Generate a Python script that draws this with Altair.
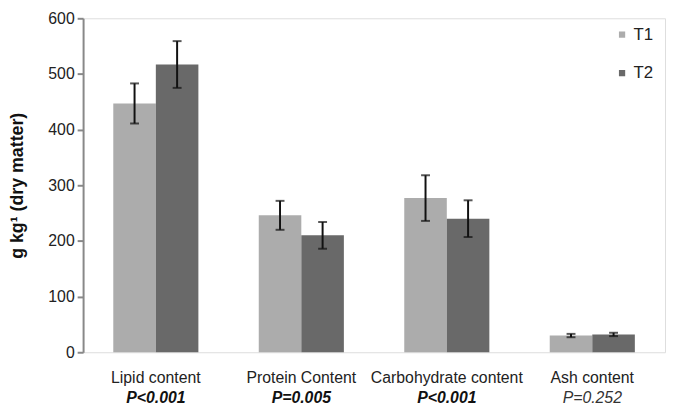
import altair as alt
import pandas as pd

categories = ["Lipid content", "Protein Content", "Carbohydrate content", "Ash content"]
p_values = ["P<0.001", "P=0.005", "P<0.001", "P=0.252"]
p_bold = [True, True, True, False]
series = ["T1", "T2"]
t1_mean = [447, 246, 277, 30]
t1_err = [36, 26, 41, 3]
t2_mean = [517, 210, 240, 32]
t2_err = [42, 24, 33, 3]

rows = []
for i, c in enumerate(categories):
    rows.append({"cat": c, "series": "T1", "v": t1_mean[i], "lo": t1_mean[i] - t1_err[i], "hi": t1_mean[i] + t1_err[i]})
    rows.append({"cat": c, "series": "T2", "v": t2_mean[i], "lo": t2_mean[i] - t2_err[i], "hi": t2_mean[i] + t2_err[i]})
df = pd.DataFrame(rows)

lab = pd.DataFrame({"cat": categories, "p": p_values, "bold": p_bold})

FONT = "Liberation Sans"
TOP = 16     # page y of plot top
H = 338      # plot height (bottom at y=354)
BOTTOM = 408 # page y of svg bottom
x = alt.X("cat:N", sort=categories, axis=None,
          scale=alt.Scale(paddingInner=0.415, paddingOuter=0.2075))
xo = alt.XOffset("series:N", sort=series)

color = alt.Color("series:N", sort=series,
                  scale=alt.Scale(domain=series, range=["#acacac", "#696969"]),
                  legend=alt.Legend(title=None, orient="none", legendX=537, legendY=8,
                                    symbolType="square", symbolSize=40, symbolStrokeWidth=0,
                                    labelFont=FONT, labelFontSize=17, labelColor="#222",
                                    rowPadding=21, labelOffset=3))

y = alt.Y("v:Q", scale=alt.Scale(domain=[0, 600]),
          axis=alt.Axis(values=[0, 100, 200, 300, 400, 500, 600], grid=False,
                        domainColor="#888", domainWidth=2, tickColor="#888", tickWidth=2,
                        tickSize=6, labelFont=FONT, labelFontSize=16, labelColor="#222",
                        labelPadding=3, title="g kg¹ (dry matter)", titleFont=FONT,
                        titleFontSize=18, titleFontWeight="bold", titleColor="#111",
                        titleAngle=270, titleX=-66, titleY=H / 2, titleAlign="center",
                        titleBaseline="middle"))

bars = alt.Chart(df).mark_bar().encode(x=x, xOffset=xo, y=y, color=color)

rules = alt.Chart(df).mark_rule(color="#111", strokeWidth=2).encode(
    x=x, xOffset=xo, y="lo:Q", y2="hi:Q")
caps_hi = alt.Chart(df).mark_tick(color="#111", thickness=2, size=9, orient="horizontal").encode(
    x=x, xOffset=xo, y="hi:Q")
caps_lo = alt.Chart(df).mark_tick(color="#111", thickness=2, size=9, orient="horizontal").encode(
    x=x, xOffset=xo, y="lo:Q")

names = alt.Chart(lab).mark_text(font=FONT, fontSize=16, color="#222", baseline="middle").encode(
    x=x, y=alt.value(380 - TOP), text="cat:N")
pb = alt.Chart(lab[lab["bold"]]).mark_text(font=FONT, fontSize=16, color="#111", fontWeight="bold",
                                          fontStyle="italic", baseline="middle").encode(
    x=x, y=alt.value(400 - TOP), text="p:N")
pn = alt.Chart(lab[~lab["bold"]]).mark_text(font=FONT, fontSize=16, color="#333",
                                           fontStyle="italic", baseline="middle").encode(
    x=x, y=alt.value(400 - TOP), text="p:N")

chart = alt.layer(bars, rules, caps_hi, caps_lo, names, pb, pn).properties(
    width=589, height=H,
    autosize=alt.AutoSizeParams(type="none"),
    padding={"left": 76, "top": TOP - 8, "right": 3, "bottom": BOTTOM - TOP - H},
).configure_view(stroke="#111", strokeWidth=2).configure(background="white")

chart.save("out.html", embed_options={"renderer": "svg", "actions": False})
